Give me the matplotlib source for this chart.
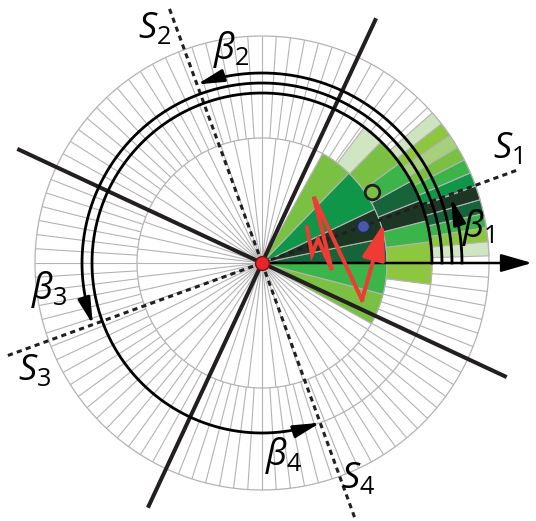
import numpy as np
import matplotlib

matplotlib.use("Agg")
import matplotlib.pyplot as plt

plt.rcParams["mathtext.fontset"] = "custom"
plt.rcParams["mathtext.it"] = "Open Sans:italic"
plt.rcParams["mathtext.rm"] = "Open Sans"

# ---- data (angles in degrees, radii in px of the drawing) ----
inner_edges = [-29, -14.5, 0, 11.5, 25.5, 46, 61]
inner_colors = ["#7ac143", "#3bb54a", "#17643a", "#1b3622", "#0f9648", "#7ac143"]

middle_edges = [-7.2, 0, 7.2, 14.4, 21.6, 28.8, 36, 45.5, 53]
middle_colors = ["#8dc63f", "#8dc63f", "#3bb54a", "#1b3622", "#17643a",
                 "#3bb54a", "#7ac143", "#d0e6c2"]

outer_start = 1.8
outer_step = 3.6
outer_colors = ["#d0e6c2", "#8dc63f", "#3bb54a", "#17643a", "#1b3622", "#0f9648",
                "#3bb54a", "#7ac143", "#a5d07c", "#8dc63f", "#cde4bf"]

ring_radii = [125, 170, 227]
inner_spokes = 56
outer_spokes = 100

sector_axes = [20, 110, 200, 290]          # S1..S4
sector_bounds = [65, 155, 245, 335]        # solid separators
beta_ends = [19, 110, 200, 290]            # beta1..beta4
beta_radii = [200, 190, 180, 170]

# red trajectory, px offsets from the centre (x right, y up)
walk_x = [45, 50, 56, 70, 51.7, 100, 121.7]
walk_y = [35.7, 9, 23.7, -7, 66.3, -37, 39.7]

blue_pt = (20, 107.6)
green_pt = (33, 131)

s_labels = ["$S_{\\mathit{1}}$", "$S_{\\mathit{2}}$", "$S_{\\mathit{3}}$", "$S_{\\mathit{4}}$"]
b_labels = ["$\\beta_{\\mathit{1}}$", "$\\beta_{\\mathit{2}}$",
            "$\\beta_{\\mathit{3}}$", "$\\beta_{\\mathit{4}}$"]

W, H = 536, 521
R = 280
cx, cy = 262, H - 263

fig = plt.figure(figsize=(W / 100, H / 100), dpi=100)
ax = fig.add_axes([(cx - R) / W, (cy - R) / H, 2 * R / W, 2 * R / H], projection="polar")
ax.set_ylim(0, R)
ax.set_axis_off()

grid_c = "#b3b3b3"
rad = np.deg2rad

# grid
ax.vlines(rad(np.arange(inner_spokes) * 360 / inner_spokes), 0, ring_radii[0],
          colors=grid_c, lw=0.8, zorder=1)
ax.vlines(rad(np.arange(outer_spokes) * 360 / outer_spokes), ring_radii[0], ring_radii[2],
          colors=grid_c, lw=0.8, zorder=1)
full = np.linspace(0, 2 * np.pi, 721)
for r in ring_radii:
    ax.plot(full, np.full_like(full, r), color=grid_c, lw=0.9, zorder=1)

# coloured sectors
e = np.array(inner_edges)
ax.bar(rad(e[:-1]), ring_radii[0], width=rad(np.diff(e)), bottom=0, align="edge",
       color=inner_colors, edgecolor=grid_c, lw=0.8, zorder=2)
e = np.array(middle_edges)
ax.bar(rad(e[:-1]), ring_radii[1] - ring_radii[0], width=rad(np.diff(e)),
       bottom=ring_radii[0], align="edge", color=middle_colors, edgecolor=grid_c,
       lw=0.8, zorder=2)
starts = outer_start + outer_step * np.arange(len(outer_colors))
ax.bar(rad(starts), ring_radii[2] - ring_radii[1], width=rad(outer_step),
       bottom=ring_radii[1], align="edge", color=outer_colors, edgecolor=grid_c,
       lw=0.8, zorder=2)

# solid separators and dotted sector axes
for a in sector_bounds:
    ax.plot([rad(a), rad(a)], [0, 270], color="#231f20", lw=2.9,
            solid_capstyle="butt", zorder=4)
for a in sector_axes:
    ax.plot([rad(a), rad(a)], [0, 271], color="#231f20", lw=2.2,
            linestyle=(0, (1.7, 1.4)), zorder=4)

# beta arcs
for end, r in zip(beta_ends, beta_radii):
    t = rad(np.linspace(0, end - 2, 300))
    ax.plot(t, np.full_like(t, r), color="black", lw=2.0, zorder=5)
    ax.annotate("", xy=(rad(end), r), xytext=(rad(end - 3), r),
                arrowprops=dict(arrowstyle="-|>,head_length=1.6,head_width=0.38",
                                color="black", lw=2.0, mutation_scale=10,
                                shrinkA=0, shrinkB=0), zorder=5)

# horizontal reference arrow
ax.annotate("", xy=(0, 270), xytext=(0, 0),
            arrowprops=dict(arrowstyle="-|>,head_length=1.9,head_width=0.55",
                            color="black", lw=1.8, mutation_scale=10,
                            shrinkA=0, shrinkB=0), zorder=5, annotation_clip=False)

# markers
ax.scatter(rad(blue_pt[0]), blue_pt[1], s=80, color="#4a56a6", edgecolor="#1d2a55",
           lw=1.2, zorder=6)
ax.scatter(rad(green_pt[0]), green_pt[1], s=110, color="#7ac143", edgecolor="#231f20",
           lw=2.0, zorder=6)

# red trajectory
wx, wy = np.array(walk_x), np.array(walk_y)
wt, wr = np.arctan2(wy, wx), np.hypot(wx, wy)
red = "#ee3b33"
ax.plot(wt[:-1], wr[:-1], color=red, lw=2.9, solid_joinstyle="miter", zorder=7)
ax.annotate("", xy=(wt[-1], wr[-1]), xytext=(wt[-2], wr[-2]),
            arrowprops=dict(arrowstyle="-|>,head_length=2.2,head_width=0.7",
                            color=red, lw=2.9, mutation_scale=10,
                            shrinkA=0, shrinkB=0), zorder=7)
ax.scatter(0, 0, s=100, color="#e8262a", edgecolor="#7a1010", lw=1.0, zorder=8)

# labels (pixel positions in the figure)
s_pos = [(508, 148), (155, 28), (35, 370), (358, 478)]
b_pos = [(478, 228), (231, 50), (49, 289), (284, 455)]
for txt, (x, y) in zip(s_labels, s_pos):
    fig.text(x / W, 1 - y / H, txt, fontsize=26, ha="center", va="center", color="black")
for txt, (x, y) in zip(b_labels, b_pos):
    fig.text(x / W, 1 - y / H, txt, fontsize=26, ha="center", va="center", color="black")

fig.savefig("out.png", dpi=100)
